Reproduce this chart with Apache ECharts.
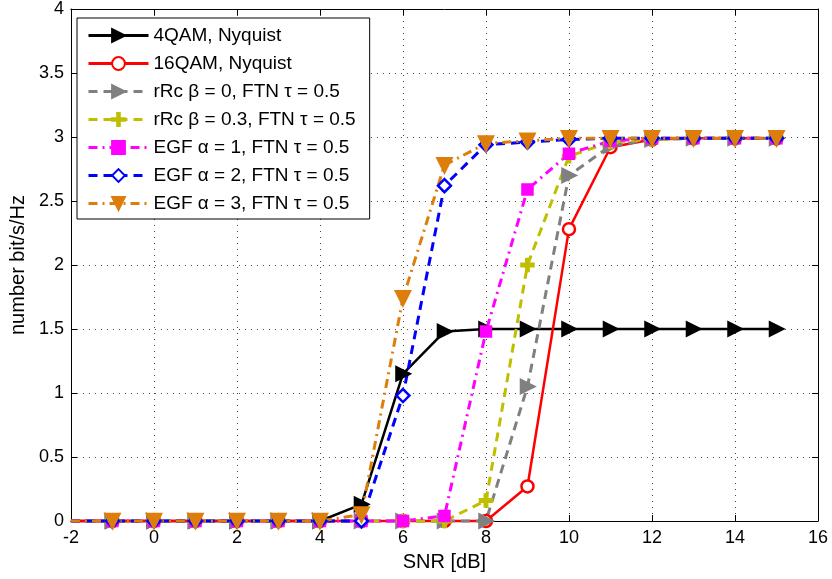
<!DOCTYPE html>
<html><head><meta charset="utf-8">
<script src="https://cdn.jsdelivr.net/npm/echarts@6/dist/echarts.min.js"></script>
<style>html,body{margin:0;padding:0;background:#fff}#c{width:832px;height:579px}</style>
</head><body><div id="c"></div>
<script>
var snr = [-2,-1,0,1,2,3,4,5,6,7,8,9,10,11,12,13,14,15];
var qam4 =   [0,0,0,0,0,0,0,0.13,1.15,1.48,1.5,1.5,1.5,1.5,1.5,1.5,1.5,1.5];
var qam16 =  [0,0,0,0,0,0,0,0,0,0,0,0.27,2.28,2.92,2.98,2.99,2.99,2.99];
var rrc0 =   [0,0,0,0,0,0,0,0,0,0,0,1.05,2.70,2.93,2.98,2.99,2.99,2.99];
var rrc03 =  [0,0,0,0,0,0,0,0,0,0,0.16,2.0,2.85,2.96,2.98,2.99,2.99,2.99];
var egf1 =   [0,0,0,0,0,0,0,0,0,0.04,1.48,2.59,2.87,2.97,2.99,2.99,2.99,2.99];
var egf2 =   [0,0,0,0,0,0,0,0,0.98,2.62,2.94,2.96,2.98,2.99,2.99,2.99,2.99,2.99];
var egf3 =   [0,0,0,0,0,0,0,0.05,1.74,2.78,2.95,2.97,2.99,2.99,2.99,2.99,2.99,2.99];
var names = ['4QAM, Nyquist','16QAM, Nyquist','rRc \u03b2 = 0, FTN \u03c4 = 0.5','rRc \u03b2 = 0.3, FTN \u03c4 = 0.5','EGF \u03b1 = 1, FTN \u03c4 = 0.5','EGF \u03b1 = 2, FTN \u03c4 = 0.5','EGF \u03b1 = 3, FTN \u03c4 = 0.5'];
var xTicks = [-2,0,2,4,6,8,10,12,14,16];
var yTicks = [0,0.5,1,1.5,2,2.5,3,3.5,4];

function pts(arr){
  return snr.map(function(x,i){
    var d = {value:[x,arr[i]]};
    if (i===0) d.symbol='none';
    return d;
  });
}
var plus = 'path://M4,0H6V4H10V6H6V10H4V6H0V4H4Z';
var cfg = [
  {d:qam4, color:'#000000', type:'solid', sym:'triangle', rot:-90, size:13, w:2.5, fill:'#000000'},
  {d:qam16, color:'#ff0000', type:'solid', sym:'circle', rot:0, size:12, w:2.5, fill:'#ffffff'},
  {d:rrc0, color:'#808080', type:[9,6], sym:'triangle', rot:-90, size:13, w:3, fill:'#808080'},
  {d:rrc03, color:'#bfbf00', type:[9,6], sym:plus, rot:0, size:12, w:3, fill:'#bfbf00'},
  {d:egf1, color:'#ff00ff', type:[9,5,2,5], sym:'rect', rot:0, size:10, w:3, fill:'#ff00ff'},
  {d:egf2, color:'#0000ff', type:[9,6], sym:'diamond', rot:0, size:13, w:3, fill:'#ffffff'},
  {d:egf3, color:'#de7e0a', type:[9,5,2,5], sym:'triangle', rot:180, size:14, w:3, fill:'#de7e0a'}
];
var series = cfg.map(function(c,i){
  return {
    name: names[i], type:'line', data: pts(c.d),
    symbol: c.sym, symbolRotate: c.rot, symbolSize: c.size, showAllSymbol:true,
    lineStyle:{color:c.color, width:c.w, type:c.type},
    itemStyle:{color:c.fill, borderColor:c.color, borderWidth:2.5},
    emphasis:{disabled:true}, animation:false, clip:false
  };
});
var font = 'Liberation Sans, Arial, sans-serif';
var chart = echarts.init(document.getElementById('c'));
chart.setOption({
  animation:false,
  grid:{left:70, right:14, top:8, bottom:58},
  legend:{
    orient:'vertical', left:77, top:18, padding:[8,14,6,10], itemGap:9,
    itemWidth:60, itemHeight:16, borderColor:'#000', borderWidth:1, backgroundColor:'#fff',
    lineStyle:{width:3},
    textStyle:{fontSize:19, fontFamily:font, color:'#000'}, data:names
  },
  xAxis:[{
    type:'value', min:-2, max:16, interval:2, name:'SNR [dB]', nameLocation:'middle', nameGap:31,
    nameTextStyle:{fontSize:20, fontFamily:font, color:'#000'},
    axisLine:{onZero:false, lineStyle:{color:'#000', width:1}},
    axisTick:{inside:true, length:6, lineStyle:{color:'#000'}},
    axisLabel:{fontSize:18, fontFamily:font, color:'#000', margin:8,
      formatter:function(v){return xTicks.indexOf(v)>=0 ? String(v) : '';}},
    splitLine:{show:true, lineStyle:{color:'#444', type:[1,5], width:1}}
  },{
    type:'value', min:-2, max:16, interval:2, position:'top',
    axisLine:{show:true, onZero:false, lineStyle:{color:'#000'}}, axisTick:{inside:true, length:6, lineStyle:{color:'#000'}},
    axisLabel:{show:false}, splitLine:{show:false}
  }],
  yAxis:[{
    type:'value', min:0, max:4, interval:0.5, name:'number bit/s/Hz', nameLocation:'middle', nameGap:33,
    nameTextStyle:{fontSize:20, fontFamily:font, color:'#000'},
    axisLine:{show:true, onZero:false, lineStyle:{color:'#000'}},
    axisTick:{show:true, inside:true, length:6, lineStyle:{color:'#000'}},
    axisLabel:{fontSize:18, fontFamily:font, color:'#000', margin:7,
      formatter:function(v){return yTicks.indexOf(v)>=0 ? String(v) : '';}},
    splitLine:{show:true, lineStyle:{color:'#444', type:[1,5], width:1}}
  },{
    type:'value', min:0, max:4, interval:0.5, position:'right',
    axisLine:{show:true, onZero:false, lineStyle:{color:'#000'}}, axisTick:{show:true, inside:true, length:6, lineStyle:{color:'#000'}},
    axisLabel:{show:false}, splitLine:{show:false}
  }],
  series: series
});
</script></body></html>
